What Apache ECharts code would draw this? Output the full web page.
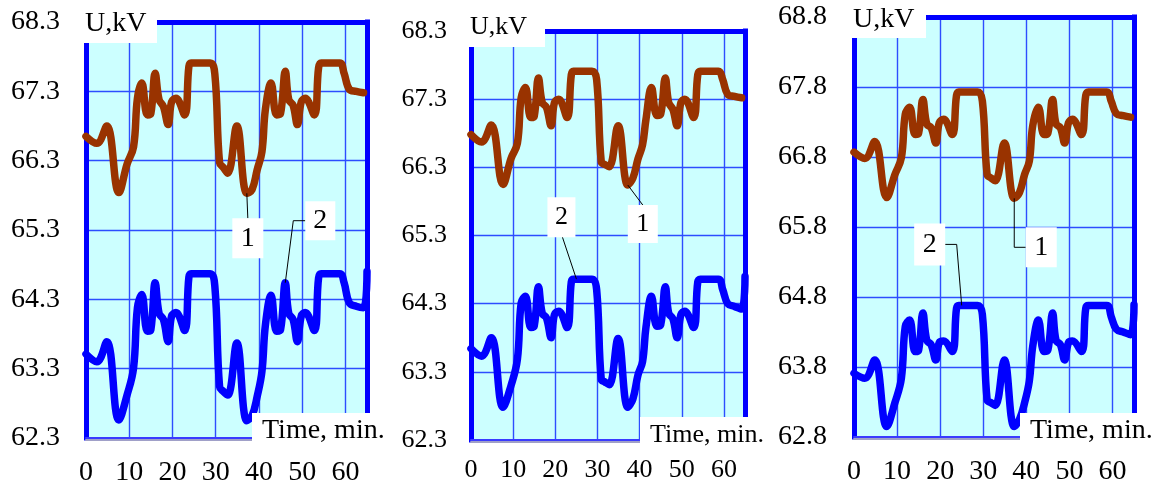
<!DOCTYPE html>
<html>
<head>
<meta charset="utf-8">
<script src="https://cdn.jsdelivr.net/npm/echarts@6/dist/echarts.min.js"></script>
<style>
  html, body { margin: 0; padding: 0; background: #ffffff; }
  #chart { width: 1174px; height: 488px; }
</style>
</head>
<body>
<div id="chart"></div>
<script>
// Sampling instants, minutes (shared by all three panels)
const minutes = [0, 2.5, 4.8, 7.6, 9.5, 11, 11.9, 12.9, 14.2, 15, 16, 16.9, 17.9, 19, 19.8, 20.8,
  22.8, 23.8, 24.3, 28.7, 29.8, 30.9, 31.8, 32.8, 34.9, 37.2, 38.4, 39.6, 40.7, 41.5, 42.8, 44.1,
  45, 46.1, 46.9, 47.9, 48.9, 49.8, 50.7, 52.8, 53.8, 54.4, 58.7, 59.7, 60.9, 62.5, 64.2];
// Curve 2 carries one more reading at the end of the interval
const lastMinute = 65;

// Panel 1: voltage, kV
const panel1Curve1 = [66.65, 66.55, 66.80, 65.84, 66.25, 66.50, 67.20, 67.42, 66.96, 66.98, 67.56, 67.18,
  67.08, 66.82, 67.15, 67.20, 66.96, 67.66, 67.71, 67.71, 67.55, 66.27, 66.20, 66.12, 66.80, 65.83, 65.88,
  66.17, 66.43, 67.04, 67.42, 66.96, 66.98, 67.59, 67.18, 67.10, 66.82, 67.15, 67.20, 66.96, 67.64, 67.71,
  67.71, 67.56, 67.33, 67.30, 67.28];
const panel1Curve2 = [63.51, 63.40, 63.69, 62.56, 62.92, 63.31, 64.18, 64.37, 63.84, 63.86, 64.54, 64.10,
  64.01, 63.69, 64.06, 64.11, 63.85, 64.62, 64.67, 64.67, 64.49, 63.04, 62.97, 62.92, 63.67, 62.55, 62.62,
  62.90, 63.26, 63.93, 64.36, 63.84, 63.86, 64.54, 64.10, 64.01, 63.69, 64.06, 64.11, 63.85, 64.61, 64.67,
  64.67, 64.54, 64.25, 64.20, 64.18, 64.70];

// Panel 2: voltage, kV
const panel2Curve1 = [66.78, 66.67, 66.92, 66.05, 66.43, 66.65, 67.32, 67.47, 67.03, 67.05, 67.61, 67.25,
  67.18, 66.91, 67.25, 67.30, 67.03, 67.66, 67.71, 67.71, 67.59, 66.38, 66.34, 66.31, 66.91, 66.04, 66.14,
  66.42, 66.63, 67.00, 67.47, 67.06, 67.08, 67.61, 67.25, 67.15, 66.91, 67.25, 67.30, 67.03, 67.66, 67.71,
  67.71, 67.59, 67.37, 67.34, 67.32];
const panel2Curve2 = [63.64, 63.53, 63.80, 62.78, 63.10, 63.48, 64.31, 64.41, 63.95, 63.97, 64.55, 64.16,
  64.09, 63.80, 64.14, 64.19, 63.95, 64.62, 64.66, 64.66, 64.51, 63.19, 63.15, 63.11, 63.79, 62.78, 62.90,
  63.25, 63.45, 63.95, 64.41, 63.97, 63.99, 64.55, 64.16, 64.08, 63.80, 64.14, 64.19, 63.95, 64.62, 64.66,
  64.66, 64.51, 64.30, 64.26, 64.22, 64.70];

// Panel 3: voltage, kV
const panel3Curve1 = [66.87, 66.78, 67.02, 66.22, 66.55, 66.79, 67.41, 67.51, 67.12, 67.14, 67.62, 67.27,
  67.22, 67.00, 67.29, 67.34, 67.12, 67.68, 67.73, 67.73, 67.60, 66.55, 66.50, 66.46, 67.00, 66.21, 66.29,
  66.55, 66.74, 67.25, 67.51, 67.12, 67.14, 67.62, 67.27, 67.22, 67.00, 67.29, 67.34, 67.12, 67.68, 67.73,
  67.73, 67.60, 67.42, 67.39, 67.37];
const panel3Curve2 = [63.71, 63.64, 63.90, 62.95, 63.29, 63.64, 64.38, 64.47, 64.02, 64.04, 64.57, 64.18,
  64.12, 63.90, 64.15, 64.17, 64.02, 64.64, 64.68, 64.68, 64.55, 63.33, 63.29, 63.25, 63.90, 62.95, 63.05,
  63.29, 63.60, 64.10, 64.47, 64.02, 64.04, 64.57, 64.18, 64.12, 63.90, 64.15, 64.17, 64.02, 64.64, 64.68,
  64.68, 64.52, 64.34, 64.30, 64.26, 64.69];

// Axis ticks
const timeTicks = [0, 10, 20, 30, 40, 50, 60];
const voltTicksA = [62.3, 63.3, 64.3, 65.3, 66.3, 67.3, 68.3];
const voltTicksB = [62.8, 63.8, 64.8, 65.8, 66.8, 67.8, 68.8];

// Texts
const voltName = 'U,kV';
const timeName = 'Time, min.';
const curveNames = ['1', '2'];

const panels = [
  { curve1: panel1Curve1, curve2: panel1Curve2, volts: voltTicksA },
  { curve1: panel2Curve1, curve2: panel2Curve2, volts: voltTicksA },
  { curve1: panel3Curve1, curve2: panel3Curve2, volts: voltTicksB }
];

// Layout of each panel
const frames = [
  { left: 86,  top: 22, width: 281, height: 416, font: 28, yMargin: 26, xMargin: 21 },
  { left: 471, top: 31, width: 274, height: 409, font: 26, yMargin: 24, xMargin: 17 },
  { left: 854, top: 17, width: 280, height: 420, font: 28, yMargin: 27, xMargin: 21 }
];

const SERIF = "'Liberation Serif', 'Times New Roman', serif";
const BORDER = '#0000ff';
const GRIDLINE = '#2d4dff';
const BROWN = '#993300';
const BLUE = '#0000ff';
const CURVE_WIDTH = 7.5;

const grids = [], xAxes = [], yAxes = [], series = [];
panels.forEach((p, i) => {
  const f = frames[i];
  grids.push({ left: f.left, top: f.top, width: f.width, height: f.height, show: true,
    backgroundColor: '#ccffff', borderWidth: 0, containLabel: false });
  // bottom time axis with labels
  xAxes.push({
    type: 'value', gridIndex: i, min: 0, max: lastMinute, position: 'bottom',
    axisLine: { show: true, onZero: false, lineStyle: { color: '#3a3aff', width: 2,
      shadowColor: '#a0a0c8', shadowOffsetY: 2, shadowBlur: 0 } },
    axisTick: { show: false, customValues: timeTicks },
    axisLabel: { customValues: timeTicks, margin: f.xMargin, color: '#000',
      fontFamily: SERIF, fontSize: f.font },
    splitLine: { show: true, lineStyle: { color: GRIDLINE, width: 1.4 } }
  });
  // left voltage axis with labels
  yAxes.push({
    type: 'value', gridIndex: i, min: p.volts[0], max: p.volts[p.volts.length - 1], position: 'left',
    axisLine: { show: true, onZero: false, lineStyle: { color: BORDER, width: 5, cap: 'square' } },
    axisTick: { show: false, customValues: p.volts },
    axisLabel: { customValues: p.volts, margin: f.yMargin, color: '#000', fontFamily: SERIF,
      fontSize: f.font, formatter: v => v.toFixed(1) },
    splitLine: { show: true, lineStyle: { color: GRIDLINE, width: 1.4 } }
  });
  series.push({
    type: 'line', xAxisIndex: i, yAxisIndex: i, name: curveNames[0],
    data: minutes.map((t, k) => [t, p.curve1[k]]),
    smooth: 0.4, showSymbol: false, symbol: 'none',
    lineStyle: { color: BROWN, width: CURVE_WIDTH, cap: 'round', join: 'round' }, z: 3
  });
  series.push({
    type: 'line', xAxisIndex: i, yAxisIndex: i, name: curveNames[1],
    data: minutes.concat([lastMinute]).map((t, k) => [t, p.curve2[k]]),
    smooth: 0.4, showSymbol: false, symbol: 'none',
    lineStyle: { color: BLUE, width: CURVE_WIDTH, cap: 'round', join: 'round' }, z: 3
  });
});
// top and right frame edges
panels.forEach((p, i) => {
  xAxes.push({
    type: 'value', gridIndex: i, min: 0, max: lastMinute, position: 'top',
    axisLine: { show: true, onZero: false, lineStyle: { color: BORDER, width: 5, cap: 'square' } },
    axisTick: { show: false }, axisLabel: { show: false }, splitLine: { show: false }
  });
  yAxes.push({
    type: 'value', gridIndex: i, min: p.volts[0], max: p.volts[p.volts.length - 1], position: 'right',
    axisLine: { show: true, onZero: false, lineStyle: { color: BORDER, width: 5, cap: 'square' } },
    axisTick: { show: false }, axisLabel: { show: false }, splitLine: { show: false }
  });
});

const chart = echarts.init(document.getElementById('chart'));
chart.setOption({
  animation: false,
  backgroundColor: '#ffffff',
  grid: grids, xAxis: xAxes, yAxis: yAxes, series: series
});

// White text boxes: axis names and curve tags with leader lines
const graphics = [];
function box(x, y, w, h, text, font, textX, textAlign) {
  graphics.push({ type: 'rect', z: 100, shape: { x: x, y: y, width: w, height: h },
    style: { fill: '#ffffff' } });
  graphics.push({ type: 'text', z: 101, x: textX !== undefined ? textX : x + w / 2, y: y + h / 2,
    style: { text: text, fill: '#000', font: font + 'px ' + SERIF,
      textAlign: textAlign || 'center', textVerticalAlign: 'middle' } });
}
function leader(points) {
  graphics.push({ type: 'polyline', z: 99, shape: { points: points },
    style: { stroke: '#000', lineWidth: 1, fill: null } });
}

frames.forEach((f, i) => {
  // axis names
  const nameBox = [
    { x: 80, y: 5, w: 77, h: 38 }, { x: 465, y: 8, w: 80, h: 39 }, { x: 848, y: 2, w: 78, h: 36 }
  ][i];
  box(nameBox.x, nameBox.y, nameBox.w, nameBox.h, voltName, f.font, nameBox.x + 5, 'left');
  const timeBox = [
    { x: 252, y: 413, w: 140, h: 36 }, { x: 640, y: 417, w: 128, h: 36 }, { x: 1020, y: 413, w: 142, h: 36 }
  ][i];
  box(timeBox.x, timeBox.y, timeBox.w, timeBox.h, timeName, f.font, timeBox.x + 10, 'left');
});

// curve tags, anchored to a reading of a curve
function px(panel, curve, k) {
  const p = panels[panel];
  const vals = curve === 1 ? p.curve1 : p.curve2;
  return chart.convertToPixel({ seriesIndex: panel * 2 + (curve - 1) }, [minutes[k], vals[k]]);
}
// Panel 1
(function () {
  const f = frames[0].font;
  const a1 = px(0, 1, 25);
  const b1 = { cx: a1[0] + 1, cy: a1[1] + 45, w: 31, h: 40 };
  box(b1.cx - b1.w / 2, b1.cy - b1.h / 2, b1.w, b1.h, curveNames[0], f);
  leader([a1, [b1.cx, b1.cy - b1.h / 2]]);
  const a2 = px(0, 2, 33);
  const b2 = { cx: a2[0] + 35, cy: a2[1] - 62, w: 30, h: 39 };
  box(b2.cx - b2.w / 2, b2.cy - b2.h / 2, b2.w, b2.h, curveNames[1], f);
  leader([a2, [a2[0] + 8, b2.cy], [b2.cx - b2.w / 2, b2.cy]]);
})();
// Panel 2
(function () {
  const f = frames[1].font;
  const a2 = px(1, 2, 18);
  const b2 = { cx: a2[0] - 12, cy: a2[1] - 62, w: 28, h: 40 };
  box(b2.cx - b2.w / 2, b2.cy - b2.h / 2, b2.w, b2.h, curveNames[1], f);
  leader([[a2[0] + 3, a2[1]], [b2.cx + 1, b2.cy + b2.h / 2]]);
  const a1 = px(1, 1, 25);
  const b1 = { cx: a1[0] + 15, cy: a1[1] + 39, w: 30, h: 38 };
  box(b1.cx - b1.w / 2, b1.cy - b1.h / 2, b1.w, b1.h, curveNames[0], f);
  leader([a1, [b1.cx, b1.cy - b1.h / 2]]);
})();
// Panel 3
(function () {
  const f = frames[2].font;
  const a2 = px(2, 2, 18);
  const b2 = { cx: a2[0] - 29, cy: a2[1] - 61, w: 31, h: 42 };
  box(b2.cx - b2.w / 2, b2.cy - b2.h / 2, b2.w, b2.h, curveNames[1], f);
  leader([[a2[0] + 3, a2[1]], [a2[0] - 2, b2.cy], [b2.cx + b2.w / 2, b2.cy]]);
  const a1 = px(2, 1, 25);
  const b1 = { cx: a1[0] + 27, cy: a1[1] + 49, w: 31, h: 40 };
  box(b1.cx - b1.w / 2, b1.cy - b1.h / 2, b1.w, b1.h, curveNames[0], f);
  leader([a1, [a1[0], b1.cy], [b1.cx - b1.w / 2, b1.cy]]);
})();

chart.setOption({ graphic: graphics });
</script>
</body>
</html>
